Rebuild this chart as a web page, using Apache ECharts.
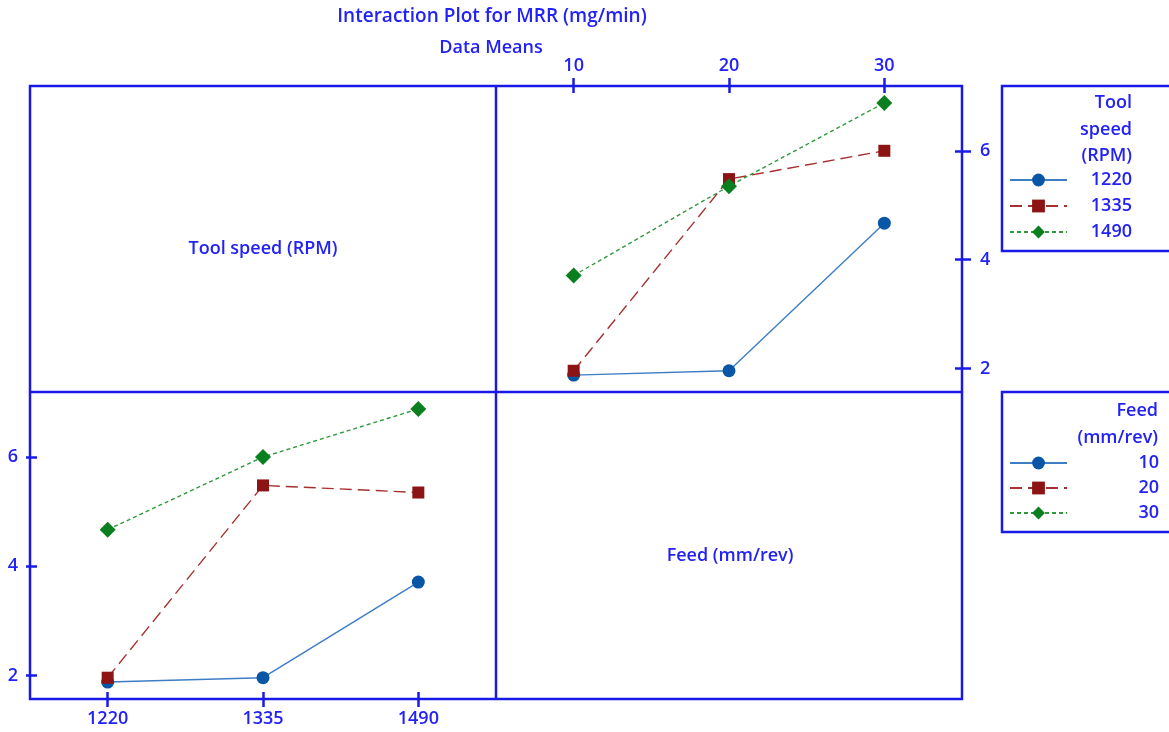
<!DOCTYPE html>
<html>
<head>
<meta charset="utf-8">
<title>Interaction Plot for MRR (mg/min)</title>
<script src="https://cdn.jsdelivr.net/npm/echarts@6/dist/echarts.min.js"></script>
<style>
  html, body { margin: 0; padding: 0; background: #ffffff; }
  #chart { width: 1169px; height: 732px; }
</style>
</head>
<body>
<div id="chart"></div>
<script>
// Factor levels
const feedLevels = ['10', '20', '30'];          // Feed (mm/rev)
const speedLevels = ['1220', '1335', '1490'];   // Tool speed (RPM)
const yTickValues = [2, 4, 6];

// Mean MRR (mg/min) for each tool speed, by feed 10 / 20 / 30
const mrr1220 = [1.88, 1.96, 4.67];
const mrr1335 = [1.96, 5.48, 6.00];
const mrr1490 = [3.71, 5.35, 6.88];

const bySpeed = [mrr1220, mrr1335, mrr1490];
// Same means regrouped by feed, across tool speeds 1220 / 1335 / 1490
const byFeed = feedLevels.map((_, f) => bySpeed.map(row => row[f]));

const FONT = '"Open Sans", "Noto Sans", sans-serif';
const WEIGHT = 600;
const TEXT = '#2222f6';
const FRAME = '#1a1ae8';
const TEXT_FONT = WEIGHT + ' 18px ' + FONT;

const styles = [
  { symbol: 'circle',  size: 13, fill: '#0a56a6', line: '#3d7dc4', type: 'solid' },
  { symbol: 'rect',    size: 12, fill: '#8c1414', line: '#a63030', type: [12, 6] },
  { symbol: 'diamond', size: 16, fill: '#0a7f1f', line: '#2e9a3b', type: [4, 3] }
];

function lineSeries(name, data, axisIdx, s) {
  return {
    type: 'line',
    name: name,
    data: data,
    xAxisIndex: axisIdx,
    yAxisIndex: axisIdx,
    symbol: s.symbol,
    symbolSize: s.size,
    itemStyle: { color: s.fill },
    lineStyle: { color: s.line, width: 1.4, type: s.type },
    emphasis: { disabled: true }
  };
}

const labelFont = { color: TEXT, fontFamily: FONT, fontSize: 18, fontWeight: WEIGHT };

function catAxis(grid, data, pos, inside, showLabel) {
  return {
    type: 'category', gridIndex: grid, data: data, position: pos,
    boundaryGap: true,
    axisLine: { show: false },
    axisTick: { show: true, alignWithLabel: true, inside: inside, length: inside ? 7 : 8,
                lineStyle: { color: FRAME, width: 2.5 } },
    axisLabel: Object.assign({ show: showLabel, margin: 11 }, labelFont),
    splitLine: { show: false }
  };
}

function valAxis(grid, pos, inside, showLabel, outLen, margin) {
  return {
    type: 'value', gridIndex: grid, position: pos,
    min: 1.57, max: 7.19,
    axisLine: { show: false },
    axisTick: { show: true, inside: inside, length: inside ? 7 : outLen,
                customValues: yTickValues, lineStyle: { color: FRAME, width: 2.5 } },
    axisLabel: Object.assign({ show: showLabel, customValues: yTickValues, margin: margin }, labelFont),
    splitLine: { show: false }
  };
}

function legendRich(width) {
  return {
    formatter: name => '{r|' + name + '}',
    textStyle: {
      rich: { r: { width: width, align: 'right', color: TEXT, fontFamily: FONT, fontSize: 18,
                   fontWeight: WEIGHT, lineHeight: 18 } }
    }
  };
}

function heading(text, x, y, align) {
  return { type: 'text', x: x, y: y, z: 100,
    style: { text: text, fill: TEXT, font: TEXT_FONT, align: align, verticalAlign: 'middle' } };
}

const chart = echarts.init(document.getElementById('chart'), null, { renderer: 'canvas' });

chart.setOption({
  animation: false,
  backgroundColor: '#ffffff',
  title: [
    { text: 'Interaction Plot for MRR (mg/min)', left: 492, top: 5, textAlign: 'center', padding: 0,
      textStyle: { color: TEXT, fontFamily: FONT, fontSize: 19, fontWeight: WEIGHT, lineHeight: 24 } },
    { text: 'Data Means', left: 491, top: 36, textAlign: 'center', padding: 0,
      textStyle: { color: TEXT, fontFamily: FONT, fontSize: 18, fontWeight: WEIGHT, lineHeight: 24 } }
  ],
  grid: [
    { left: 496, top: 86, width: 466, height: 306 },
    { left: 30, top: 392, width: 466, height: 307 }
  ],
  xAxis: [
    catAxis(0, feedLevels, 'top', false, true),
    catAxis(0, feedLevels, 'top', true, false),
    catAxis(1, speedLevels, 'bottom', false, true),
    catAxis(1, speedLevels, 'bottom', true, false)
  ],
  yAxis: [
    valAxis(0, 'right', false, true, 9, 18),
    valAxis(0, 'right', true, false, 9, 18),
    valAxis(1, 'left', false, true, 4, 12),
    valAxis(1, 'left', true, false, 4, 12)
  ],
  legend: [
    Object.assign({
      data: speedLevels, orient: 'vertical', left: 1009, top: 171, padding: 0,
      itemWidth: 57, itemHeight: 16, itemGap: 8, selectedMode: false
    }, legendRich(60)),
    Object.assign({
      data: feedLevels, orient: 'vertical', left: 1009, top: 454, padding: 0,
      itemWidth: 57, itemHeight: 16, itemGap: 7, selectedMode: false
    }, legendRich(87))
  ],
  graphic: [
    // panel frame
    { type: 'rect', shape: { x: 30, y: 86, width: 932, height: 613 }, z: 100,
      style: { fill: null, stroke: FRAME, lineWidth: 2.5 } },
    { type: 'line', shape: { x1: 496, y1: 86, x2: 496, y2: 699 }, z: 100,
      style: { stroke: FRAME, lineWidth: 2.5 } },
    { type: 'line', shape: { x1: 30, y1: 392, x2: 962, y2: 392 }, z: 100,
      style: { stroke: FRAME, lineWidth: 2.5 } },
    // factor names on the diagonal panels
    heading('Tool speed (RPM)', 263, 249, 'center'),
    heading('Feed (mm/rev)', 730, 556, 'center'),
    // legend boxes and headings
    { type: 'rect', shape: { x: 1002, y: 86, width: 220, height: 165 }, z: 100,
      style: { fill: null, stroke: FRAME, lineWidth: 2.5 } },
    { type: 'rect', shape: { x: 1002, y: 392, width: 220, height: 140 }, z: 100,
      style: { fill: null, stroke: FRAME, lineWidth: 2.5 } },
    heading('Tool', 1132, 103, 'right'),
    heading('speed', 1132, 129.5, 'right'),
    heading('(RPM)', 1132, 156, 'right'),
    heading('Feed', 1158, 411, 'right'),
    heading('(mm/rev)', 1158, 438, 'right')
  ],
  series: [
    lineSeries(speedLevels[0], mrr1220, 0, styles[0]),
    lineSeries(speedLevels[1], mrr1335, 0, styles[1]),
    lineSeries(speedLevels[2], mrr1490, 0, styles[2]),
    lineSeries(feedLevels[0], byFeed[0], 2, styles[0]),
    lineSeries(feedLevels[1], byFeed[1], 2, styles[1]),
    lineSeries(feedLevels[2], byFeed[2], 2, styles[2])
  ]
});
</script>
</body>
</html>
